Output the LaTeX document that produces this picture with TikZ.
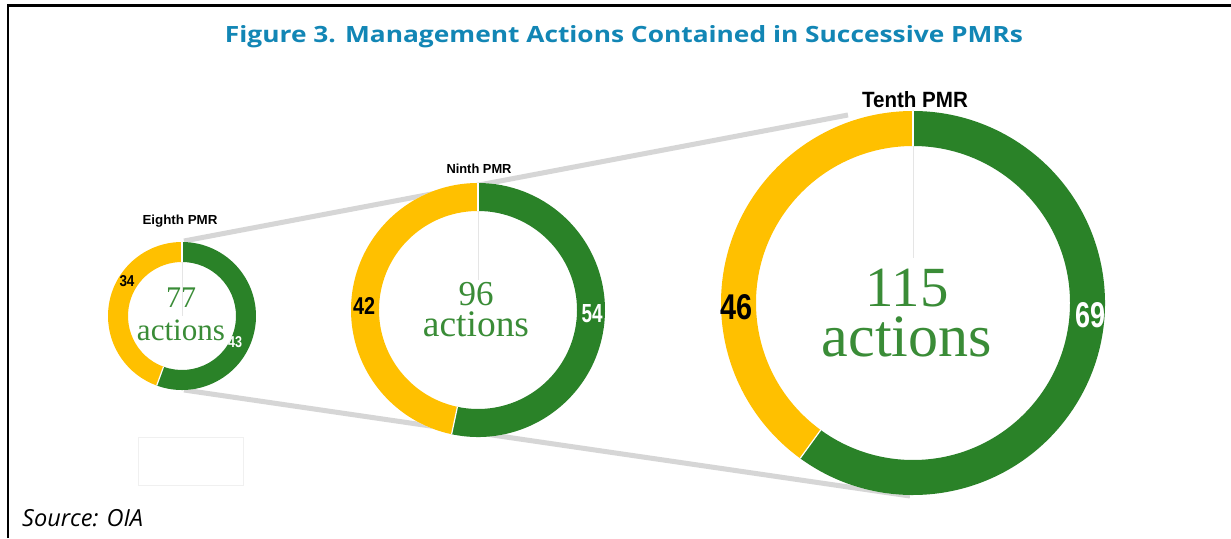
\documentclass[tikz,border=0pt]{standalone}
\usepackage{fontspec}
\usepackage{graphicx}
\setmainfont{Liberation Serif}
\newfontfamily\osans{Open Sans}
\newfontfamily\lsans{Liberation Sans}
\definecolor{ringyellow}{RGB}{255,192,0}
\definecolor{ringgreen}{RGB}{42,130,40}
\definecolor{txtgreen}{RGB}{58,140,55}
\definecolor{titleblue}{RGB}{18,134,181}
\definecolor{connector}{RGB}{214,214,214}
\newcommand{\ringseg}[6]{% color, center node, R, r, a1, a2
  \fill[#1] ([shift={(#2.center)}]#5:#3) arc[start angle=#5, end angle=#6, radius=#3]
    -- ([shift={(#2.center)}]#6:#4) arc[start angle=#6, end angle=#5, radius=#4] -- cycle;}
\newcommand{\fitw}[2]{\resizebox{#1}{!}{#2}}
\newcommand{\fitwh}[3]{\resizebox{#1}{#2}{#3}}
\newcommand{\twoline}[3]{\vbox{\baselineskip=#3\relax\lineskiplimit=-16000pt\lineskip=0pt\halign{\hfil##\hfil\cr#1\cr#2\cr}}}
\tikzset{
  disk/.style={circle, fill=white, inner sep=0pt, minimum size=#1},
  pmrlabel/.style={anchor=base, inner sep=0pt, font=\lsans\bfseries},
  blacknum/.style={anchor=base, inner sep=0pt, font=\lsans\bfseries, text=black},
  whitenum/.style={anchor=base, inner sep=0pt, font=\lsans\bfseries, text=white},
  bigtxt/.style={anchor=base, inner sep=0pt, text=txtgreen},
  link/.style={draw=connector, line width=5pt},
  sep/.style={draw=white, line width=1.2pt},
  spoke/.style={draw=black!10, line width=0.6pt},
}
\begin{document}
\begin{tikzpicture}[x=1pt,y=1pt]
\useasboundingbox (0,0) rectangle (1231,538);
\fill[white] (0,0) rectangle (1231,538);
% frame
\draw[line width=2.4pt, line join=miter] (8,0) -- (8,532.5) -- (1231,532.5);
% title
\node[anchor=base, inner sep=0pt, text=titleblue] (title) at (624,495)
  {\fitwh{798pt}{17pt}{\osans\bfseries Figure 3. Management Actions Contained in Successive PMRs}};
% source
\node[anchor=base west, inner sep=0pt] (source) at (22,12)
  {\fitw{121pt}{\osans\itshape\fontsize{15.5}{18}\selectfont Source: OIA}};
% faint box
\draw[black!6, line width=0.8pt] (138,53) rectangle (243,101);
% connector anchor points
\coordinate (etop) at (184,297);
\coordinate (ebot) at (184,148);
\coordinate (ttop) at (848,423);
\coordinate (tbot) at (910,42);
\draw[link] (etop) -- (ttop);
\draw[link] (ebot) -- (tbot);
% ---------- Eighth ----------
\node[disk=148pt] (e) at (182,222) {};
\ringseg{ringyellow}{e}{74pt}{54pt}{90}{250}
\ringseg{ringgreen}{e}{74pt}{54pt}{250}{450}
\draw[sep] ([shift={(e.center)}]250:54pt) -- ([shift={(e.center)}]250:74pt);
\draw[sep] ([shift={(e.center)}]90:54pt) -- ([shift={(e.center)}]90:74pt);
\draw[spoke] (e.center) -- ([shift={(e.center)}]90:54pt);
\node[pmrlabel] (elabel) at (180,313) {\fitwh{75pt}{9.5pt}{Eighth PMR}};
\node[blacknum] (e34) at (127,251) {\fitwh{15pt}{11pt}{34}};
\node[whitenum] (e43) at (235,190) {\fitwh{14pt}{11pt}{43}};
\node[bigtxt] (etext) at (181,197) {\twoline{\fitw{30pt}{77}}{\fitw{88pt}{actions}}{33pt}};
% ---------- Ninth ----------
\node[disk=254pt] (n) at (478,228) {};
\ringseg{ringyellow}{n}{127pt}{99pt}{90}{258}
\ringseg{ringgreen}{n}{127pt}{99pt}{258}{450}
\draw[sep] ([shift={(n.center)}]258:99pt) -- ([shift={(n.center)}]258:127pt);
\draw[sep] ([shift={(n.center)}]90:99pt) -- ([shift={(n.center)}]90:127pt);
\draw[spoke] ([shift={(n.center)}]90:30pt) -- ([shift={(n.center)}]90:99pt);
\node[pmrlabel] (nlabel) at (479,364) {\fitwh{65pt}{9.5pt}{Ninth PMR}};
\node[blacknum] (n42) at (364,223) {\fitwh{22pt}{17pt}{42}};
\node[whitenum] (n54) at (592,215) {\fitwh{21pt}{18pt}{54}};
\node[bigtxt] (ntext) at (476,201) {\twoline{\fitw{35pt}{96}}{\fitw{106pt}{actions}}{31pt}};
% ---------- Tenth ----------
\node[disk=384pt] (t) at (913,235) {};
\ringseg{ringyellow}{t}{192pt}{157pt}{90}{234}
\ringseg{ringgreen}{t}{192pt}{157pt}{234}{450}
\draw[sep] ([shift={(t.center)}]234:157pt) -- ([shift={(t.center)}]234:192pt);
\draw[sep] ([shift={(t.center)}]90:157pt) -- ([shift={(t.center)}]90:192pt);
\draw[spoke] ([shift={(t.center)}]90:45pt) -- ([shift={(t.center)}]90:157pt);
\node[pmrlabel] (tlabel) at (915,430) {\fitwh{106pt}{16pt}{Tenth PMR}};
\node[blacknum] (t46) at (736,218) {\fitwh{32pt}{25pt}{46}};
\node[whitenum] (t69) at (1090,210) {\fitwh{30pt}{25pt}{69}};
\node[bigtxt] (ttext) at (907,181) {\twoline{\fitw{83pt}{115}}{\fitw{170pt}{actions}}{50pt}};
\end{tikzpicture}
\end{document}
